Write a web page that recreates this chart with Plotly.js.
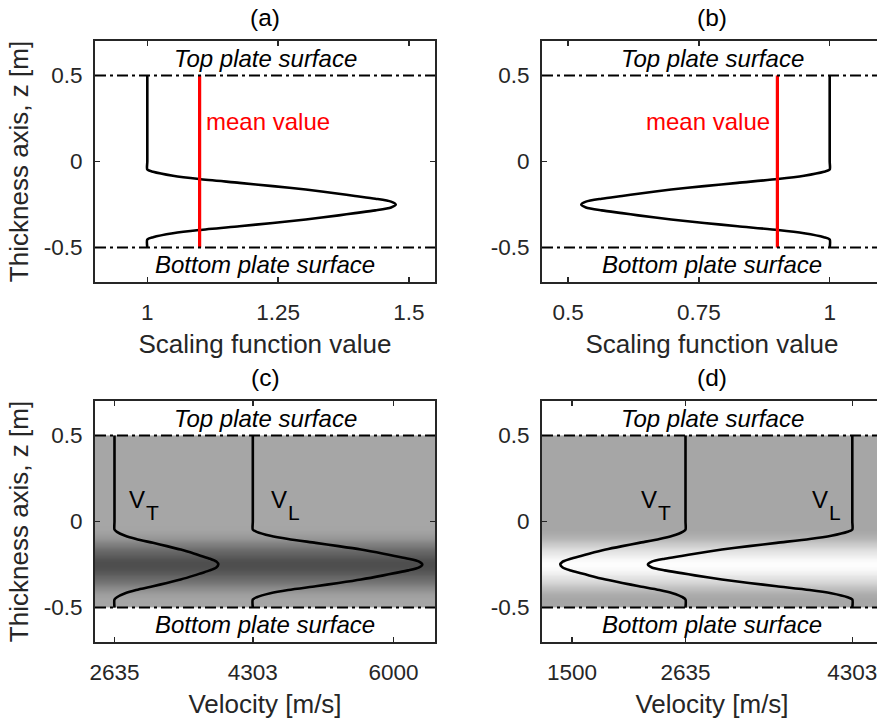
<!DOCTYPE html>
<html>
<head>
<meta charset="utf-8">
<script src="https://cdn.plot.ly/plotly-3.0.1.min.js"></script>
<style>html,body{margin:0;padding:0;overflow:hidden;background:#fff;width:877px;height:720px}</style>
</head>
<body>
<div id="chart"></div>
<script>
// ---- data ----
const zVals  = [0.5, 0, -0.047, -0.06, -0.083, -0.102, -0.124, -0.143, -0.163, -0.187, -0.2, -0.216, -0.233, -0.25, -0.267, -0.284, -0.3, -0.313, -0.337, -0.357, -0.376, -0.398, -0.417, -0.44, -0.453, -0.5];
const scaleA = [1, 1, 1, 1.011, 1.049, 1.099, 1.176, 1.24, 1.303, 1.366, 1.397, 1.436, 1.466, 1.475, 1.466, 1.436, 1.397, 1.366, 1.303, 1.24, 1.176, 1.099, 1.049, 1.011, 1, 1];
const scaleB = [1, 1, 1, 0.989, 0.951, 0.901, 0.824, 0.76, 0.697, 0.634, 0.603, 0.564, 0.534, 0.525, 0.534, 0.564, 0.603, 0.634, 0.697, 0.76, 0.824, 0.901, 0.951, 0.989, 1, 1];
const vtC = [2635, 2635, 2635, 2664, 2764, 2896, 3099, 3267, 3433, 3599, 3681, 3784, 3863, 3887, 3863, 3784, 3681, 3599, 3433, 3267, 3099, 2896, 2764, 2664, 2635, 2635];
const vlC = [4303, 4303, 4303, 4350, 4514, 4729, 5060, 5336, 5607, 5878, 6011, 6179, 6308, 6347, 6308, 6179, 6011, 5878, 5607, 5336, 5060, 4729, 4514, 4350, 4303, 4303];
const vtD = [2635, 2635, 2635, 2606, 2506, 2374, 2171, 2003, 1837, 1671, 1589, 1486, 1407, 1383, 1407, 1486, 1589, 1671, 1837, 2003, 2171, 2374, 2506, 2606, 2635, 2635];
const vlD = [4303, 4303, 4303, 4256, 4092, 3877, 3546, 3270, 2999, 2728, 2595, 2427, 2298, 2259, 2298, 2427, 2595, 2728, 2999, 3270, 3546, 3877, 4092, 4256, 4303, 4303];
const meanA = 1.1;
const meanB = 0.9;
const surfaceZ = [0.5, -0.5];
const meanZ = [0.5, -0.5];

const rangeA = [0.9, 1.55], rangeB = [0.45, 1.1], rangeC = [2400, 6500], rangeD = [1200, 4600];
const ticksA = [1, 1.25, 1.5], tickTextA = ['1', '1.25', '1.5'];
const ticksB = [0.5, 0.75, 1], tickTextB = ['0.5', '0.75', '1'];
const ticksC = [2635, 4303, 6000], tickTextC = ['2635', '4303', '6000'];
const ticksD = [1500, 2635, 4303], tickTextD = ['1500', '2635', '4303'];
const ticksZ = [-0.5, 0, 0.5], tickTextZ = ['-0.5', '0', '0.5'];
const panelTitles = ['(a)', '(b)', '(c)', '(d)'];
// velocity labels (left edge of the "V")
const vLabels = [
  {xa:'x3', ya:'y3', x:2822, sub:'T'},
  {xa:'x3', ya:'y3', x:4535, sub:'L'},
  {xa:'x4', ya:'y4', x:2200, sub:'T'},
  {xa:'x4', ya:'y4', x:3910, sub:'L'}
];

// ---- helpers ----
const FONT = 'Liberation Sans, Arial, Helvetica, sans-serif';
const W = 885, H = 720;
const px = v => v / W, py = v => 1 - v / H;

function cellMeans(arr) { const o = []; for (let i = 0; i < arr.length - 1; i++) { const m = (arr[i] + arr[i+1]) / 2; o.push([m, m]); } return o; }

const gray = [[0, '#ffffff'], [1, '#4c4c4c']];
const curve = {color:'#000', width:2.6, shape:'spline', smoothing:0.7};
const traces = [
  {type:'heatmap', x:[rangeC[0], (rangeC[0]+rangeC[1])/2, rangeC[1]], y:zVals, z:cellMeans(scaleA), xaxis:'x3', yaxis:'y3', colorscale:gray, zmin:0.52, zmax:1.48, zsmooth:'best', showscale:false, hoverinfo:'skip'},
  {type:'heatmap', x:[rangeD[0], (rangeD[0]+rangeD[1])/2, rangeD[1]], y:zVals, z:cellMeans(scaleB), xaxis:'x4', yaxis:'y4', colorscale:gray, zmin:0.52, zmax:1.48, zsmooth:'best', showscale:false, hoverinfo:'skip'},
  {type:'scatter', mode:'lines', x:scaleA, y:zVals, xaxis:'x', yaxis:'y', line:curve},
  {type:'scatter', mode:'lines', x:[meanA, meanA], y:meanZ, xaxis:'x', yaxis:'y', line:{color:'#ff0000', width:3.2}},
  {type:'scatter', mode:'lines', x:scaleB, y:zVals, xaxis:'x2', yaxis:'y2', line:curve},
  {type:'scatter', mode:'lines', x:[meanB, meanB], y:meanZ, xaxis:'x2', yaxis:'y2', line:{color:'#ff0000', width:3.2}},
  {type:'scatter', mode:'lines', x:vtC, y:zVals, xaxis:'x3', yaxis:'y3', line:curve},
  {type:'scatter', mode:'lines', x:vlC, y:zVals, xaxis:'x3', yaxis:'y3', line:curve},
  {type:'scatter', mode:'lines', x:vtD, y:zVals, xaxis:'x4', yaxis:'y4', line:curve},
  {type:'scatter', mode:'lines', x:vlD, y:zVals, xaxis:'x4', yaxis:'y4', line:curve}
];

const tickFont = {family:FONT, size:22.5, color:'#262626'};
const titleFont = {family:FONT, size:26, color:'#262626'};
const common = {showline:true, mirror:'ticks', linecolor:'#262626', linewidth:2, ticks:'inside', ticklen:5, tickwidth:1.5, tickcolor:'#262626',
    showgrid:false, zeroline:false, tickfont:tickFont, fixedrange:true, tickmode:'array'};
function xax(dom, anchor, range, tv, tt, title) {
  return Object.assign({}, common, {domain:dom, anchor:anchor, range:range, tickvals:tv, ticktext:tt, ticklabelstandoff:9,
    title:{text:title, font:titleFont, standoff:11}});
}
function yax(dom, anchor, title) {
  const a = Object.assign({}, common, {domain:dom, anchor:anchor, range:[-0.7, 0.7], tickvals:ticksZ, ticktext:tickTextZ, ticklabelstandoff:6});
  if (title) a.title = {text:title, font:titleFont, standoff:8};
  return a;
}

const colL = [px(95), px(435)], colR = [px(542), px(882)];
const rowT = [py(282), py(41)], rowB = [py(642), py(401)];

const layout = {
  width:W, height:H, margin:{l:0, r:0, t:0, b:0}, paper_bgcolor:'#fff', plot_bgcolor:'#fff', showlegend:false,
  font:{family:FONT},
  xaxis: xax(colL, 'y', rangeA, ticksA, tickTextA, 'Scaling function value'),
  yaxis: yax(rowT, 'x', 'Thickness axis, z [m]'),
  xaxis2: xax(colR, 'y2', rangeB, ticksB, tickTextB, 'Scaling function value'),
  yaxis2: yax(rowT, 'x2', null),
  xaxis3: xax(colL, 'y3', rangeC, ticksC, tickTextC, 'Velocity [m/s]'),
  yaxis3: yax(rowB, 'x3', 'Thickness axis, z [m]'),
  xaxis4: xax(colR, 'y4', rangeD, ticksD, tickTextD, 'Velocity [m/s]'),
  yaxis4: yax(rowB, 'x4', null),
  shapes: [],
  annotations: []
};

const axes = [['x','y'],['x2','y2'],['x3','y3'],['x4','y4']];
axes.forEach(([xa, ya], i) => {
  surfaceZ.forEach(z => layout.shapes.push({type:'line', xref:xa + ' domain', yref:ya, x0:0, x1:1, y0:z, y1:z, line:{color:'#000', width:2, dash:'11px,4px,3px,4px'}, layer:'above'}));
  layout.annotations.push({xref:xa + ' domain', yref:ya, x:0.5, y:0.6, text:'<i>Top plate surface</i>', showarrow:false, font:{family:FONT, size:24, color:'#000'}, xanchor:'center', yanchor:'middle'});
  layout.annotations.push({xref:xa + ' domain', yref:ya, x:0.5, y:-0.6, text:'<i>Bottom plate surface</i>', showarrow:false, font:{family:FONT, size:24, color:'#000'}, xanchor:'center', yanchor:'middle'});
  layout.annotations.push({xref:xa + ' domain', yref:'paper', x:0.5, y: i < 2 ? py(17) : py(377), text:panelTitles[i], showarrow:false, font:{family:FONT, size:24.5, color:'#000'}, xanchor:'center', yanchor:'middle'});
});
layout.annotations.push({xref:'x', yref:'y', x:meanA, y:0.235, xshift:4, text:'mean value', showarrow:false, font:{family:FONT, size:24, color:'#ff0000'}, xanchor:'left', yanchor:'middle'});
layout.annotations.push({xref:'x2', yref:'y2', x:meanB, y:0.235, xshift:-5, text:'mean value', showarrow:false, font:{family:FONT, size:24, color:'#ff0000'}, xanchor:'right', yanchor:'middle'});
vLabels.forEach(v => {
  layout.annotations.push({xref:v.xa, yref:v.ya, x:v.x, y:0.13, xshift:-1, borderpad:0, borderwidth:0, text:'V', showarrow:false, font:{family:FONT, size:24, color:'#000'}, xanchor:'left', yanchor:'middle'});
  layout.annotations.push({xref:v.xa, yref:v.ya, x:v.x, y:0.052, xshift:16, borderpad:0, borderwidth:0, text:v.sub, showarrow:false, font:{family:FONT, size:21, color:'#000'}, xanchor:'left', yanchor:'middle'});
});

Plotly.newPlot('chart', traces, layout, {displayModeBar:false, staticPlot:true});
</script>
</body>
</html>
